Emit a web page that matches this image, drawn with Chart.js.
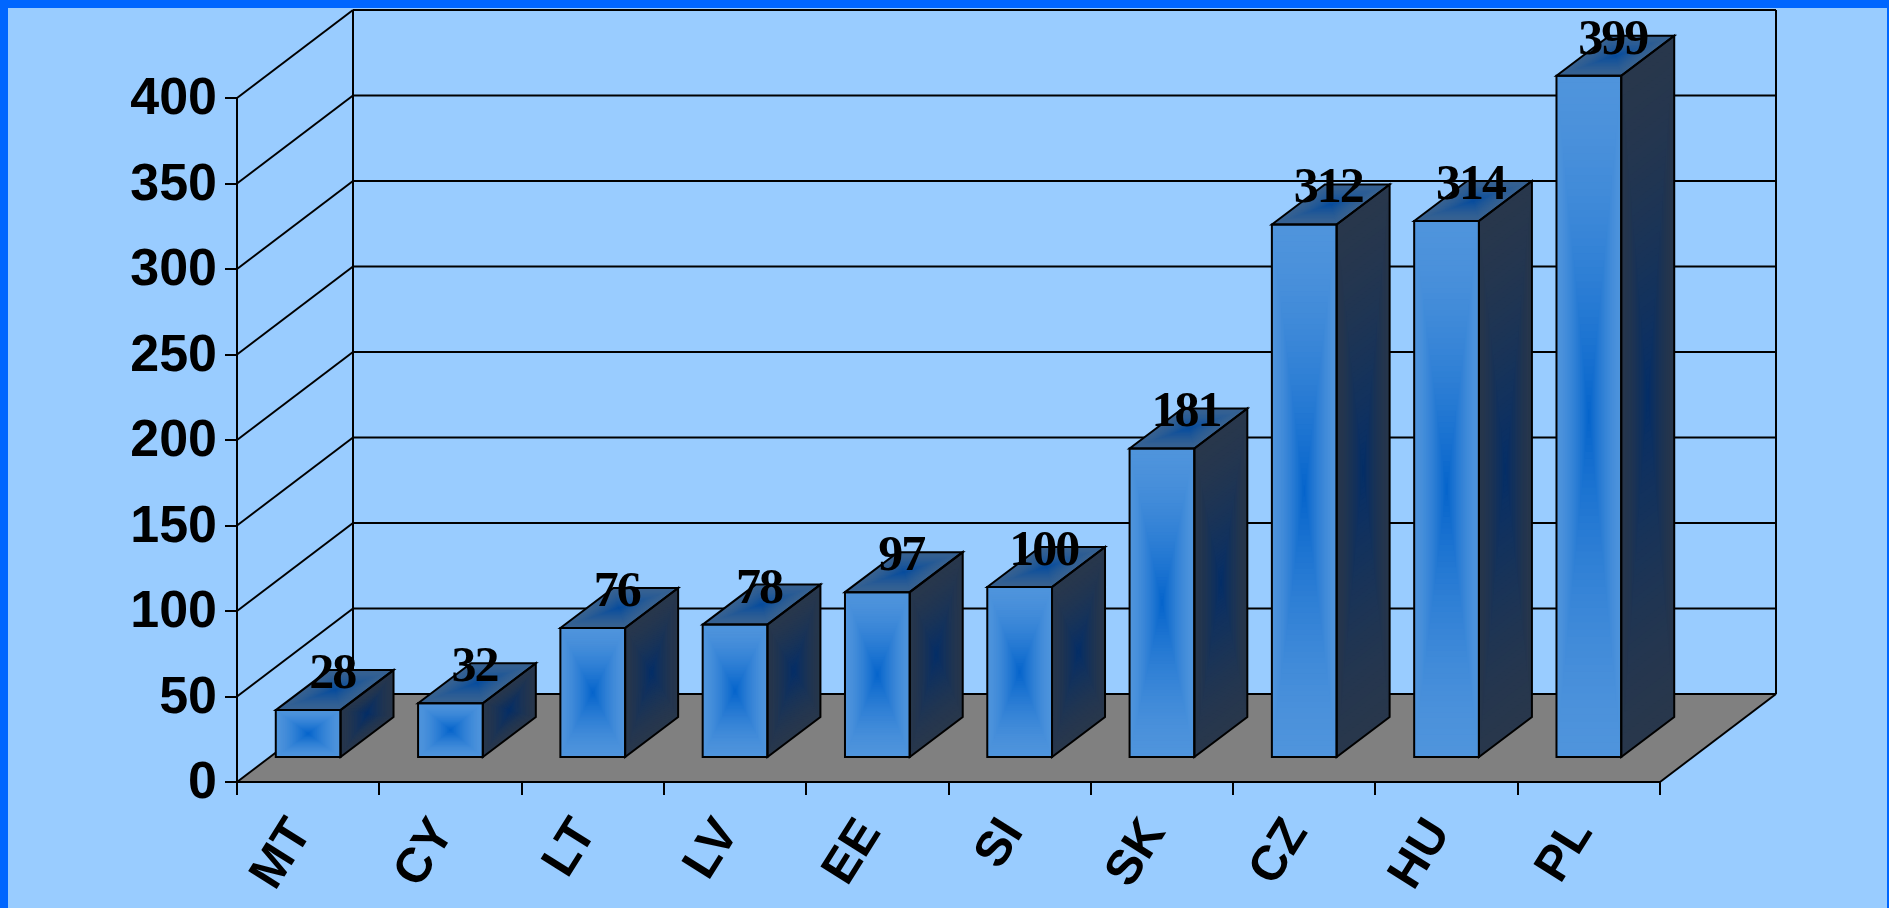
<!DOCTYPE html>
<html>
<head>
<meta charset="utf-8">
<style>
  html, body { margin: 0; padding: 0; background: #99ccff; overflow: hidden; }
  #frame { position: fixed; left: 0; top: 0; width: 1889px; height: 908px; box-sizing: border-box;
           border-left: 8px solid #0066ff; border-top: 8px solid #0066ff; border-right: 2px solid #0066ff; }
  #c { position: fixed; left: 0; top: 0; }
</style>
<script src="https://cdn.jsdelivr.net/npm/chart.js@4"></script>
</head>
<body>
<div id="frame"></div>
<canvas id="c" width="1889" height="908"></canvas>
<script>
const categories = ['MT', 'CY', 'LT', 'LV', 'EE', 'SI', 'SK', 'CZ', 'HU', 'PL'];
const values = [28, 32, 76, 78, 97, 100, 181, 312, 314, 399];
const yTicks = [0, 50, 100, 150, 200, 250, 300, 350, 400];

// projection of the fake 3D box
const WALL_DX = 116, WALL_DY = 88;
const BAR_DX = 53, BAR_DY = 40;
const BAR_LIFT = 24;

const FACE = {
  front: { edge: [79, 148, 220], mid: [4, 100, 204] },
  side: { edge: [40, 55, 76], mid: [4, 46, 104] },
  top: { edge: [56, 98, 145], mid: [6, 76, 158] },
};

function mix(a, b, t) {
  return `rgb(${a.map((v, i) => Math.round(v + (b[i] - v) * t)).join(',')})`;
}

// rectangle gradient going out from the centre, drawn in a unit square
function fillFace(ctx, m, face) {
  ctx.save();
  ctx.transform(m[0], m[1], m[2], m[3], m[4], m[5]);
  const steps = 48;
  for (let i = steps; i > 0; i--) {
    const t = i / steps;
    ctx.fillStyle = mix(face.mid, face.edge, 1 - Math.pow(1 - t, 1.5));
    ctx.fillRect(0.5 - t / 2, 0.5 - t / 2, t, t);
  }
  ctx.restore();
}

function outline(ctx, pts, width) {
  ctx.beginPath();
  pts.forEach((p, i) => (i ? ctx.lineTo(p[0], p[1]) : ctx.moveTo(p[0], p[1])));
  ctx.closePath();
  ctx.lineWidth = width;
  ctx.strokeStyle = '#000';
  ctx.stroke();
}

function line(ctx, x1, y1, x2, y2, width) {
  ctx.beginPath();
  ctx.moveTo(x1, y1);
  ctx.lineTo(x2, y2);
  ctx.lineWidth = width;
  ctx.strokeStyle = '#000';
  ctx.stroke();
}

const box3d = {
  id: 'box3d',
  beforeDraw(chart) {
    const { ctx, chartArea: a, scales: { y } } = chart;
    const y0 = y.getPixelForValue(0);
    ctx.save();
    // floor
    ctx.beginPath();
    ctx.moveTo(a.left, y0);
    ctx.lineTo(a.right, y0);
    ctx.lineTo(a.right + WALL_DX, y0 - WALL_DY);
    ctx.lineTo(a.left + WALL_DX, y0 - WALL_DY);
    ctx.closePath();
    ctx.fillStyle = '#808080';
    ctx.fill();
    line(ctx, a.right, y0, a.right + WALL_DX, y0 - WALL_DY, 2);
    // walls
    for (const v of yTicks) {
      const py = y.getPixelForValue(v);
      line(ctx, a.left, py, a.left + WALL_DX, py - WALL_DY, 2);
      line(ctx, a.left + WALL_DX, py - WALL_DY, a.right + WALL_DX, py - WALL_DY, 2);
    }
    line(ctx, a.left + WALL_DX, a.top - WALL_DY, a.left + WALL_DX, y0 - WALL_DY, 2);
    line(ctx, a.right + WALL_DX, a.top - WALL_DY, a.right + WALL_DX, y0 - WALL_DY, 2);
    ctx.restore();
  },
  afterDatasetsDraw(chart) {
    const { ctx } = chart;
    const meta = chart.getDatasetMeta(0);
    ctx.save();
    meta.data.forEach(el => {
      const l = el.x - el.width / 2;
      const r = el.x + el.width / 2;
      const t = el.y - BAR_LIFT;
      const b = el.base - BAR_LIFT;
      fillFace(ctx, [r - l, 0, 0, b - t, l, t], FACE.front);
      fillFace(ctx, [BAR_DX, -BAR_DY, 0, b - t, r, t], FACE.side);
      fillFace(ctx, [r - l, 0, BAR_DX, -BAR_DY, l, t], FACE.top);
      outline(ctx, [[l, t], [r, t], [r, b], [l, b]], 2);
      outline(ctx, [[r, t], [r + BAR_DX, t - BAR_DY], [r + BAR_DX, b - BAR_DY], [r, b]], 2);
      outline(ctx, [[l, t], [l + BAR_DX, t - BAR_DY], [r + BAR_DX, t - BAR_DY], [r, t]], 2);
    });
    // value labels sit on top of everything
    ctx.fillStyle = '#000';
    ctx.font = 'bold 50px "Liberation Serif"';
    ctx.letterSpacing = '-2px';
    ctx.textAlign = 'center';
    ctx.textBaseline = 'alphabetic';
    meta.data.forEach((el, i) => {
      ctx.fillText(String(values[i]), el.x + 24, el.y - BAR_LIFT - 22);
    });
    ctx.restore();
  },
};

new Chart(document.getElementById('c'), {
  type: 'bar',
  data: {
    labels: categories,
    datasets: [{
      data: values,
      backgroundColor: 'transparent',
      borderWidth: 0,
      barPercentage: 0.455,
      categoryPercentage: 1,
    }],
  },
  options: {
    responsive: false,
    animation: false,
    events: [],
    layout: { padding: { top: 98, right: 229, left: 0, bottom: 0 } },
    plugins: { legend: { display: false }, tooltip: { enabled: false } },
    scales: {
      x: {
        afterFit: s => { s.height = 126; },
        grid: { drawOnChartArea: false, drawTicks: true, tickLength: 13, color: '#000', lineWidth: 2 },
        border: { color: '#000', width: 2 },
        ticks: {
          color: '#000',
          font: { family: '"Liberation Sans"', weight: 'bold', size: 49 },
          minRotation: 58,
          maxRotation: 58,
          autoSkip: false,
          padding: 14,
          labelOffset: -7,
        },
      },
      y: {
        min: 0,
        max: 400,
        afterFit: s => { s.width = 237; },
        afterBuildTicks: s => { s.ticks = yTicks.map(value => ({ value })); },
        grid: { drawOnChartArea: false, drawTicks: true, tickLength: 12, color: '#000', lineWidth: 2 },
        border: { color: '#000', width: 2 },
        ticks: {
          color: '#000',
          font: { family: '"Liberation Sans"', weight: 'bold', size: 52 },
          padding: 8,
          labelOffset: 2,
        },
      },
    },
  },
  plugins: [box3d],
});
</script>
</body>
</html>
